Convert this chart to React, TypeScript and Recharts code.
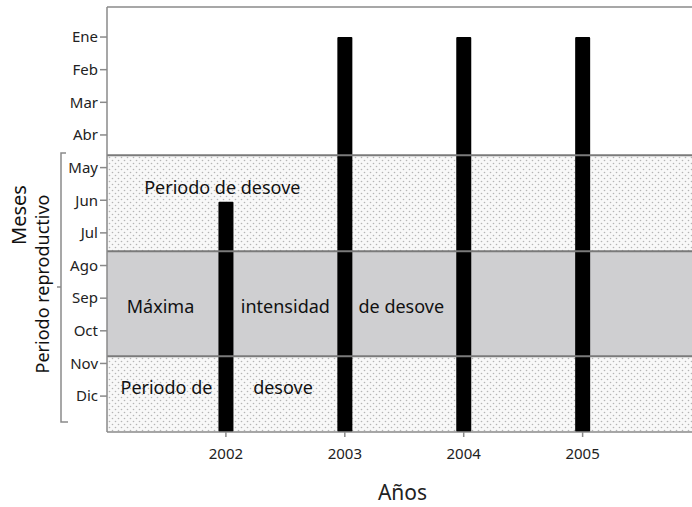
import {
  BarChart,
  Bar,
  XAxis,
  YAxis,
  ReferenceArea,
  ReferenceLine,
  ReferenceDot,
} from 'recharts'

// ── Datos ────────────────────────────────────────────────
const MONTHS = ['Ene', 'Feb', 'Mar', 'Abr', 'May', 'Jun', 'Jul', 'Ago', 'Sep', 'Oct', 'Nov', 'Dic']
const MONTH_TICKS = [1, 2, 3, 4, 5, 6, 7, 8, 9, 10, 11, 12]
const YEARS = [2002, 2003, 2004, 2005]
// mes hasta donde llega cada barra (1 = Ene)
const BAR_TOP = [6.05, 1, 1, 1]

// límites de las franjas (en posiciones de mes)
const SPAWN_TOP = 4.62
const MAX_TOP = 7.56
const MAX_BOTTOM = 10.78

const Y_MIN = 0.08
const Y_MAX = 13.1
const X_MIN = 2001
const X_MAX = 2005.92

const LABELS = [
  { x: 2001.97, y: 5.6, text: 'Periodo de desove' },
  { x: 2001.45, y: 9.27, text: 'Máxima' },
  { x: 2002.5, y: 9.27, text: 'intensidad' },
  { x: 2003.475, y: 9.27, text: 'de desove' },
  { x: 2001.5, y: 11.75, text: 'Periodo de' },
  { x: 2002.48, y: 11.75, text: 'desove' },
]

const data = YEARS.map((year, i) => ({ year, range: [Y_MAX, BAR_TOP[i]] }))

const FONT = '"Noto Sans", sans-serif'
const AXIS = '#8a8a8a'
const BORDER = '#7a7a7a'

export default function App() {
  return (
    <div style={{ position: 'absolute', left: 0, top: 0, width: 692, height: 507, background: '#fff', fontFamily: FONT }}>
      {/* patrón punteado */}
      <svg width={0} height={0} style={{ position: 'absolute' }}>
        <defs>
          <pattern id="dots" width={6} height={6} patternUnits="userSpaceOnUse">
            <rect width={6} height={6} fill="#f8f8f8" />
            <circle cx={1.5} cy={1.5} r={0.8} fill="#b5b5b5" />
            <circle cx={4.5} cy={4.5} r={0.8} fill="#b5b5b5" />
          </pattern>
        </defs>
      </svg>

      <BarChart
        width={692}
        height={507}
        data={data}
        margin={{ top: 7, right: 0, bottom: 0, left: 0 }}
      >
        <XAxis
          dataKey="year"
          type="number"
          domain={[X_MIN, X_MAX]}
          ticks={YEARS}
          allowDataOverflow
          height={75}
          stroke={AXIS}
          strokeWidth={1.5}
          tickSize={5}
          tickMargin={11}
          tick={{ fill: '#222', fontSize: 15, fontFamily: FONT }}
          label={{ value: 'Años', position: 'insideBottom', offset: 7, dx: 3, fill: '#222', fontSize: 21, fontFamily: FONT }}
        />
        <YAxis
          type="number"
          reversed
          domain={[Y_MIN, Y_MAX]}
          ticks={MONTH_TICKS}
          allowDataOverflow
          width={107}
          stroke={AXIS}
          strokeWidth={1.5}
          tickSize={7}
          tickMargin={2}
          tickFormatter={(v) => MONTHS[v - 1]}
          tick={{ fill: '#222', fontSize: 15, fontFamily: FONT }}
        />

        <ReferenceArea y1={SPAWN_TOP} y2={MAX_TOP} fill="url(#dots)" fillOpacity={1} stroke="none" />
        <ReferenceArea y1={MAX_TOP} y2={MAX_BOTTOM} fill="#cfcfd1" fillOpacity={1} stroke="none" />
        <ReferenceArea y1={MAX_BOTTOM} y2={Y_MAX} fill="url(#dots)" fillOpacity={1} stroke="none" />
        <ReferenceLine y={Y_MIN} stroke={AXIS} strokeWidth={1.5} />
        <ReferenceLine y={SPAWN_TOP} stroke={BORDER} strokeWidth={2} />
        <ReferenceLine y={MAX_TOP} stroke={BORDER} strokeWidth={2} />
        <ReferenceLine y={MAX_BOTTOM} stroke={BORDER} strokeWidth={2} />

        {LABELS.map((l) => (
          <ReferenceDot
            key={l.text + l.x}
            x={l.x}
            y={l.y}
            r={0}
            fill="none"
            stroke="none"
            label={{ value: l.text, position: 'center', fill: '#111', fontSize: 18, fontFamily: FONT }}
          />
        ))}

        <Bar dataKey="range" fill="#000" barSize={15} radius={1} isAnimationActive={false} />
      </BarChart>

      {/* títulos del eje Y y corchete */}
      <svg width={692} height={507} style={{ position: 'absolute', left: 0, top: 0, pointerEvents: 'none' }}>
        <text x={18} y={215} transform="rotate(-90 18 215)" textAnchor="middle" dominantBaseline="central" fontSize={20} fill="#111" fontFamily={FONT}>
          Meses
        </text>
        <text x={42} y={284} transform="rotate(-90 42 284)" textAnchor="middle" dominantBaseline="central" fontSize={18} fill="#111" fontFamily={FONT}>
          Periodo reproductivo
        </text>
        <path d="M66 153 L61 153 L61 422 L68 422 M61 287 L57 287" fill="none" stroke={AXIS} strokeWidth={1.5} />
      </svg>
    </div>
  )
}
